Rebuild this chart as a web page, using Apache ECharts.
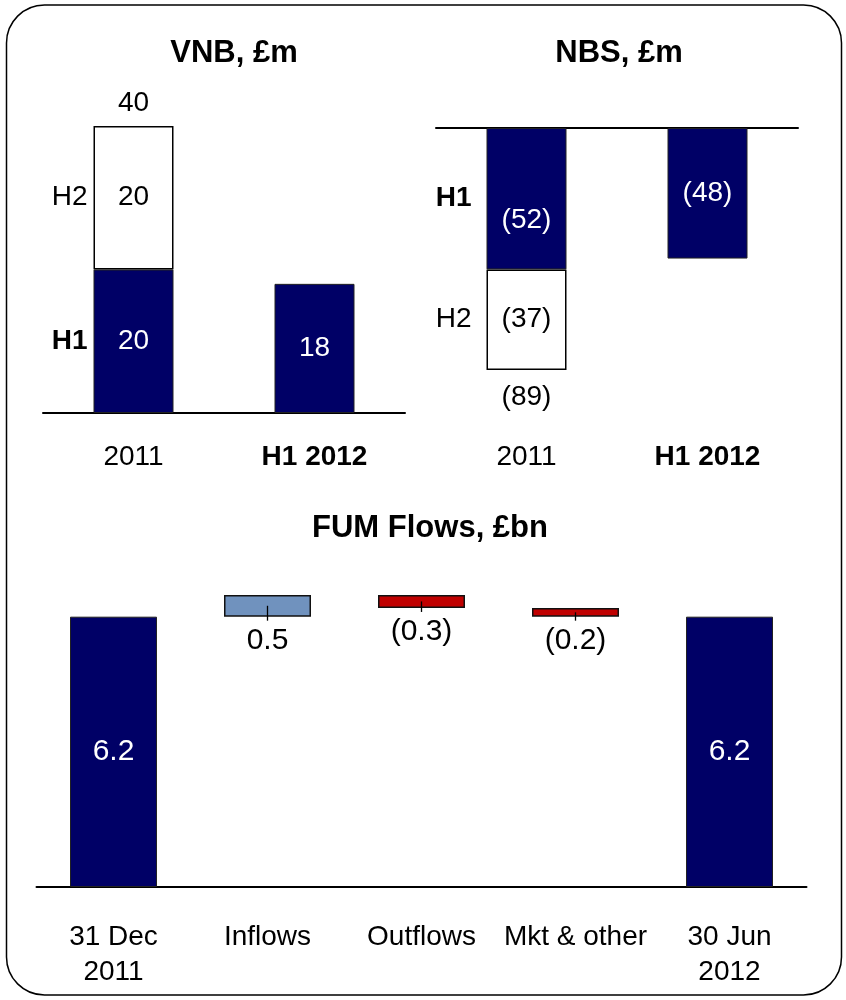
<!DOCTYPE html>
<html><head><meta charset="utf-8">
<script src="https://cdn.jsdelivr.net/npm/echarts@6/dist/echarts.min.js"></script>
<style>html,body{margin:0;padding:0;background:#fff}#c{width:846px;height:1000px}</style>
</head><body><div id="c"></div>
<script>
// ---------- data ----------
const vnbCategories = ['2011', 'H1 2012'];
const vnbH1 = [20, 18];
const vnbH2 = [20, null];
const vnbTotal = [40, null];

const nbsCategories = ['2011', 'H1 2012'];
const nbsH1 = [-52, -48];
const nbsH2 = [-37, null];
const nbsTotal = [-89, null];

const halfLabels = ['H1', 'H2'];
const boldCategories = ['H1 2012'];

const fumCategories = ['31 Dec\n2011', 'Inflows', 'Outflows', 'Mkt & other', '30 Jun\n2012'];
const fumValues = [6.2, 0.5, -0.3, -0.2, 6.2];
const fumKinds = ['total', 'flow', 'flow', 'flow', 'total'];

// ---------- styles ----------
const FONT = '"Liberation Sans", Arial, Helvetica, sans-serif';
const NAVY = '#000066';
const RED = '#C00000';
const BLUE = '#7092BE';

function fmtInt(v) { return v < 0 ? '(' + Math.abs(v) + ')' : String(v); }
function fmtDec(v) { return v < 0 ? '(' + Math.abs(v).toFixed(1) + ')' : v.toFixed(1); }

// waterfall layout built from fumValues
let run = 0;
const fumBase = [], fumBar = [], fumRange = [];
fumValues.forEach((v, i) => {
  if (fumKinds[i] === 'total') { fumBase.push(0); fumBar.push(v); run = v; }
  else {
    const lo = Math.min(run, run + v);
    fumBase.push(lo); fumBar.push(Math.abs(v));
    fumRange.push([i, lo, lo + Math.abs(v)]);
    run += v;
  }
});

const catLabelBase = { fontFamily: FONT, fontSize: 28, color: '#000', lineHeight: 35 };
function catLabel(margin) {
  return {
    show: true, margin: margin, interval: 0,
    fontFamily: FONT, fontSize: 28, color: '#000', lineHeight: 35,
    formatter: v => boldCategories.includes(v) ? '{b|' + v + '}' : '{n|' + v + '}',
    rich: { b: Object.assign({ fontWeight: 'bold' }, catLabelBase), n: Object.assign({}, catLabelBase) }
  };
}
const axisLine = { show: true, onZero: false, lineStyle: { color: '#000', width: 2 } };
const dataLabel = (color, size) => ({ show: true, fontFamily: FONT, fontSize: size || 28, color: color, opacity: 1 });
const ghost = { color: '#000', opacity: 1 };
const textOnly = { symbol: 'circle', symbolSize: 0, itemStyle: ghost, silent: true, emphasis: { disabled: true } };

const chart = echarts.init(document.getElementById('c'), null, { renderer: 'canvas' });
chart.setOption({
  animation: false,
  backgroundColor: '#fff',
  title: [
    { text: 'VNB, £m', left: 234, top: 38, textAlign: 'center', padding: 0, textStyle: { fontFamily: FONT, fontSize: 31, fontWeight: 'bold', color: '#000' } },
    { text: 'NBS, £m', left: 619, top: 38, textAlign: 'center', padding: 0, textStyle: { fontFamily: FONT, fontSize: 31, fontWeight: 'bold', color: '#000' } },
    { text: 'FUM Flows, £bn', left: 430, top: 513, textAlign: 'center', padding: 0, textStyle: { fontFamily: FONT, fontSize: 31, fontWeight: 'bold', color: '#000' } }
  ],
  graphic: [{
    type: 'rect', z: -1, silent: true,
    shape: { x: 6.5, y: 5, width: 835, height: 990, r: 38 },
    style: { fill: 'none', stroke: '#000', lineWidth: 1.5 }
  }],
  grid: [
    { left: 43, width: 362, top: 126, height: 287 },
    { left: 436, width: 362, top: 128, height: 272 },
    { left: 36.5, width: 770, top: 581.8, height: 305.2 }
  ],
  xAxis: [
    { type: 'category', gridIndex: 0, data: vnbCategories, axisLine: axisLine, axisTick: { show: false }, axisLabel: catLabel(27) },
    { type: 'category', gridIndex: 1, data: nbsCategories, position: 'top', axisLine: axisLine, axisTick: { show: false }, axisLabel: { show: false } },
    { type: 'category', gridIndex: 1, data: nbsCategories, position: 'bottom', axisLine: { show: false, onZero: false }, axisTick: { show: false }, axisLabel: catLabel(40) },
    { type: 'category', gridIndex: 2, data: fumCategories, axisLine: axisLine, axisTick: { show: false }, axisLabel: catLabel(33) }
  ],
  yAxis: [
    { type: 'value', gridIndex: 0, min: 0, max: 40, show: false, splitLine: { show: false } },
    { type: 'value', gridIndex: 1, min: -100, max: 0, show: false, splitLine: { show: false } },
    { type: 'value', gridIndex: 2, min: 0, max: 7, show: false, splitLine: { show: false } }
  ],
  series: [
    // ---- VNB ----
    { type: 'bar', xAxisIndex: 0, yAxisIndex: 0, stack: 'vnb', barWidth: 80, data: vnbH1,
      itemStyle: { color: NAVY, borderColor: '#222', borderWidth: 1 },
      label: Object.assign(dataLabel('#fff'), { position: 'inside', formatter: p => fmtInt(p.value) }) },
    { type: 'bar', xAxisIndex: 0, yAxisIndex: 0, stack: 'vnb', barWidth: 80, data: vnbH2,
      itemStyle: { color: '#fff', borderColor: '#000', borderWidth: 1.5 },
      label: Object.assign(dataLabel('#000'), { position: 'inside', formatter: p => fmtInt(p.value) }) },
    Object.assign({ type: 'scatter', xAxisIndex: 0, yAxisIndex: 0,
      data: vnbTotal.map((v, i) => v == null ? null : [i, v]).filter(d => d),
      label: Object.assign(dataLabel('#000'), { position: 'top', distance: 9, formatter: p => fmtInt(p.value[1]) }) }, textOnly),
    Object.assign({ type: 'scatter', xAxisIndex: 0, yAxisIndex: 0,
      data: [
        { value: [0, vnbH1[0] / 2], label: { formatter: halfLabels[0], fontWeight: 'bold' } },
        { value: [0, vnbH1[0] + vnbH2[0] / 2], label: { formatter: halfLabels[1] } }
      ],
      label: Object.assign(dataLabel('#000'), { position: 'left', distance: 46 }) }, textOnly),
    // ---- NBS ----
    { type: 'bar', xAxisIndex: 1, yAxisIndex: 1, stack: 'nbs', barWidth: 80,
      data: nbsH1.map((v, i) => i === 0 ? { value: v, label: { offset: [0, 22] } } : v),
      itemStyle: { color: NAVY, borderColor: '#222', borderWidth: 1 },
      label: Object.assign(dataLabel('#fff'), { position: 'inside', formatter: p => fmtInt(p.value) }) },
    { type: 'bar', xAxisIndex: 1, yAxisIndex: 1, stack: 'nbs', barWidth: 80, data: nbsH2,
      itemStyle: { color: '#fff', borderColor: '#000', borderWidth: 1.5 },
      label: Object.assign(dataLabel('#000'), { position: 'inside', formatter: p => fmtInt(p.value) }) },
    Object.assign({ type: 'scatter', xAxisIndex: 1, yAxisIndex: 1,
      data: nbsTotal.map((v, i) => v == null ? null : [i, v]).filter(d => d),
      label: Object.assign(dataLabel('#000'), { position: 'bottom', distance: 13, formatter: p => fmtInt(p.value[1]) }) }, textOnly),
    Object.assign({ type: 'scatter', xAxisIndex: 1, yAxisIndex: 1,
      data: [
        { value: [0, nbsH1[0] / 2], label: { formatter: halfLabels[0], fontWeight: 'bold' } },
        { value: [0, nbsH1[0] + nbsH2[0] / 2], label: { formatter: halfLabels[1] } }
      ],
      label: Object.assign(dataLabel('#000'), { position: 'left', distance: 55 }) }, textOnly),
    // ---- FUM waterfall ----
    { type: 'bar', xAxisIndex: 3, yAxisIndex: 2, stack: 'fum', barWidth: 87, data: fumBase,
      itemStyle: { color: 'rgba(0,0,0,0)', borderWidth: 0 }, silent: true, label: { show: false } },
    { type: 'bar', xAxisIndex: 3, yAxisIndex: 2, stack: 'fum', barWidth: 87,
      data: fumBar.map((h, i) => ({
        value: h,
        itemStyle: { color: fumKinds[i] === 'total' ? NAVY : (fumValues[i] >= 0 ? BLUE : RED),
                     borderColor: fumKinds[i] === 'total' ? '#222' : '#111', borderWidth: fumKinds[i] === 'total' ? 1 : 1.5 },
        label: fumKinds[i] === 'total' ? { position: 'inside', color: '#fff' } : { position: 'bottom', color: '#000', distance: 9 }
      })),
      label: Object.assign(dataLabel('#000', 30), { formatter: p => fmtDec(fumValues[p.dataIndex]) }) },
    { type: 'custom', xAxisIndex: 3, yAxisIndex: 2, z: 5, silent: true, data: fumRange,
      renderItem: (params, api) => {
        const top = api.coord([api.value(0), api.value(2)]);
        const bot = api.coord([api.value(0), api.value(1)]);
        return { type: 'line', shape: { x1: bot[0], y1: (top[1] + bot[1]) / 2, x2: bot[0], y2: bot[1] + 4 },
                 style: { stroke: '#000', lineWidth: 1.3 } };
      } }
  ]
});
</script>
</body></html>
